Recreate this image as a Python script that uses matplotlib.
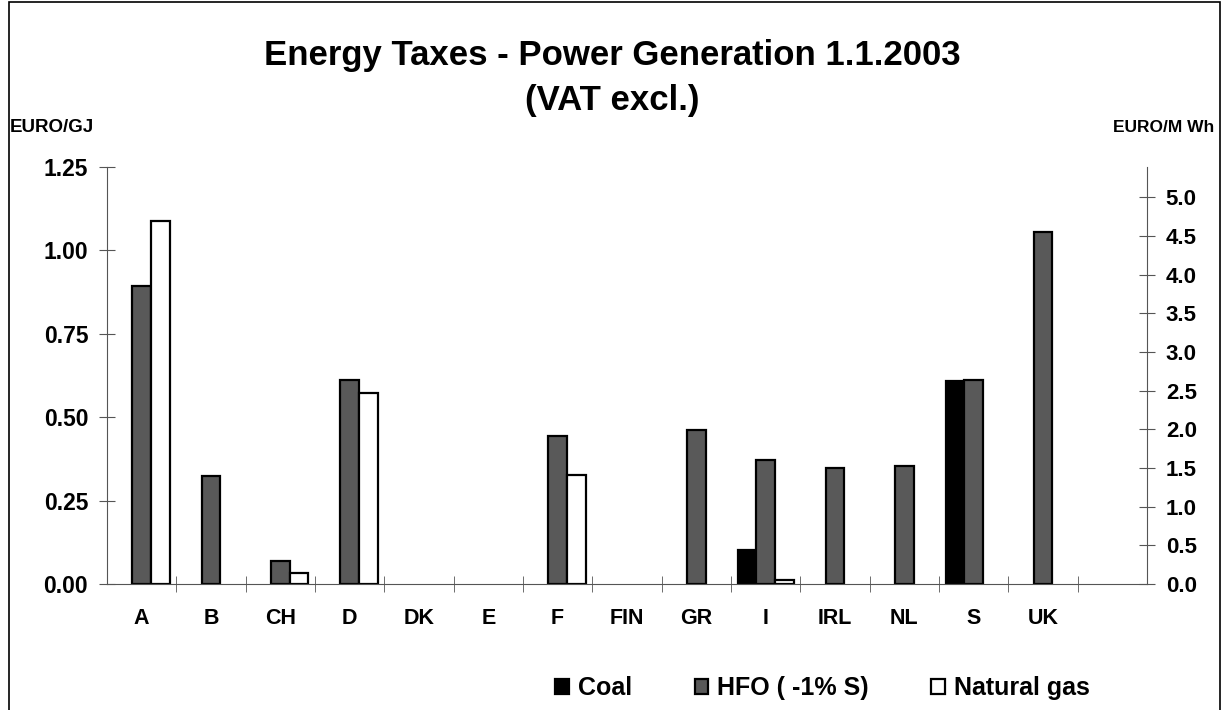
import numpy as np
import matplotlib
matplotlib.use("Agg")
import matplotlib.pyplot as plt
from matplotlib.patches import Rectangle

plt.rcParams['font.family'] = ['Liberation Sans', 'DejaVu Sans']
plt.rcParams['font.weight'] = 'bold'

countries = ["A", "B", "CH", "D", "DK", "E", "F", "FIN", "GR", "I", "IRL", "NL", "S", "UK", ""]
coal = [0, 0, 0, 0, 0, 0, 0, 0, 0, 0.102, 0, 0, 0.608, 0, 0]
hfo = [0.893, 0.324, 0.069, 0.611, 0, 0, 0.443, 0, 0.462, 0.372, 0.348, 0.353, 0.611, 1.054, 0]
gas = [1.089, 0, 0.032, 0.571, 0, 0, 0.326, 0, 0, 0.012, 0, 0, 0, 0, 0]

left_ticks = [0.0, 0.25, 0.5, 0.75, 1.0, 1.25]
right_ticks = [0.0, 0.5, 1.0, 1.5, 2.0, 2.5, 3.0, 3.5, 4.0, 4.5, 5.0]

fig = plt.figure(figsize=(12.24, 7.10), dpi=100)
ax = fig.add_axes([0.0874, 0.1775, 0.8497, 0.5873])

x = np.arange(len(countries))
w = 0.27
axis_col = '#555555'


def draw(vals, offset, fill, label):
    vals = np.array(vals)
    keep = vals > 0
    ax.bar(x[keep] + offset, vals[keep], w, color=fill, edgecolor='black',
           linewidth=1.6, label=label)


draw(coal, -w, 'black', 'Coal')
draw(hfo, 0, '#595959', 'HFO ( -1% S)')
draw(gas, w, 'white', 'Natural gas')

ax.set_xlim(-0.5, len(countries) - 0.5)
ax.set_ylim(0, 1.25)
ax.set_yticks(left_ticks)
ax.set_yticklabels([f"{v:.2f}" for v in left_ticks], fontsize=16.5, fontweight='bold')
ax.set_xticks(x)
ax.set_xticklabels(countries, fontsize=15.5, fontweight='bold')
ax.set_xticks(np.arange(0.5, len(countries) - 0.5), minor=True)
ax.tick_params(axis='x', which='major', length=0, pad=17)
ax.tick_params(axis='x', which='minor', direction='inout', length=12, color=axis_col)
ax.tick_params(axis='y', direction='inout', length=11, color=axis_col, pad=8)

for s in ['top', 'right']:
    ax.spines[s].set_visible(False)
for s in ['left', 'bottom']:
    ax.spines[s].set_color(axis_col)

ax2 = ax.twinx()
ax2.set_ylim(0, 5.39)
ax2.set_yticks(right_ticks)
ax2.set_yticklabels([f"{v:.1f}" for v in right_ticks], fontsize=16, fontweight='bold')
ax2.tick_params(axis='y', direction='inout', length=11, color=axis_col, pad=8)
for s in ['top', 'left', 'bottom']:
    ax2.spines[s].set_visible(False)
ax2.spines['right'].set_color(axis_col)

fig.text(0.5, 0.922, "Energy Taxes - Power Generation 1.1.2003", ha='center', va='center',
         fontsize=25, fontweight='bold')
fig.text(0.5, 0.858, "(VAT excl.)", ha='center', va='center', fontsize=25, fontweight='bold')
fig.text(0.008, 0.82, "EURO/GJ", ha='left', va='center', fontsize=13.5, fontweight='bold')
fig.text(0.992, 0.82, "EURO/M Wh", ha='right', va='center', fontsize=12.5, fontweight='bold')

fig.legend(loc='center', bbox_to_anchor=(0.672, 0.031), ncol=3, frameon=False,
           prop={'size': 18, 'weight': 'bold'}, handlelength=0.55, handleheight=0.55,
           handletextpad=0.35, columnspacing=2.5)

fig.patches.append(Rectangle((0.007, -0.05), 0.99, 1.047, transform=fig.transFigure,
                             fill=False, edgecolor='black', linewidth=1.2))

fig.savefig("out.png", dpi=100)
